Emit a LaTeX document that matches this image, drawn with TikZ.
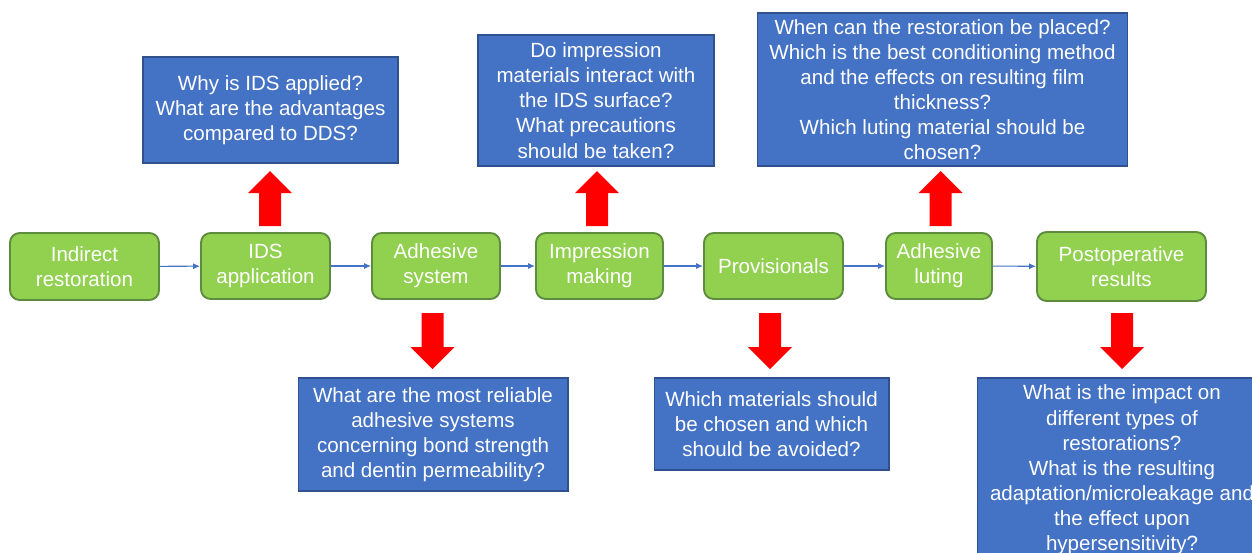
\documentclass[tikz,border=0pt]{standalone}
\usepackage{fontspec}
\setmainfont{Liberation Sans}
\usetikzlibrary{arrows.meta}
\definecolor{gfill}{HTML}{92D050}
\definecolor{gline}{HTML}{5E8C3E}
\definecolor{bfill}{HTML}{4472C4}
\definecolor{bline}{HTML}{2F528F}
\definecolor{conn}{HTML}{4472C4}
\definecolor{ared}{HTML}{FF0000}
\tikzset{
  txt/.style={font=\fontsize{11.7}{14.3}\selectfont, text=white, align=center, inner sep=0pt},
  gbox/.style={txt, draw=gline, line width=1.1pt, fill=gfill, rounded corners=5.5pt},
  bbox/.style={txt, draw=bline, line width=0.6pt, fill=bfill},
  conn/.style={draw=conn, line width=0.6pt, -{Latex[length=4pt,width=3.5pt]}},
  uparr/.pic={\fill[ared] (-11,0) -- (-11,-33) -- (-22,-33) -- (0,-55) -- (22,-33) -- (11,-33) -- (11,0) -- cycle;},
  downarr/.pic={\fill[ared] (-11,0) -- (-11,34) -- (-22,34) -- (0,56) -- (22,34) -- (11,34) -- (11,0) -- cycle;}
}
\begin{document}
\begin{tikzpicture}[x=0.02cm,y=-0.02cm]
\useasboundingbox (0,0) rectangle (1252,552);
\clip (0,0) rectangle (1252,552);
\fill[white] (0,0) rectangle (1252,552);
% green process boxes
\node[gbox, minimum width=2.98cm, minimum height=1.34cm] (g1) at (84.5,266.5) {Indirect\\restoration};
\node[gbox, minimum width=2.58cm, minimum height=1.32cm] (g2) at (265.5,266) {IDS\\application};
\node[gbox, minimum width=2.56cm, minimum height=1.32cm] (g3) at (436,266) {Adhesive\\system};
\node[gbox, minimum width=2.54cm, minimum height=1.32cm] (g4) at (599.5,266) {Impression\\making};
\node[gbox, minimum width=2.78cm, minimum height=1.32cm] (g5) at (773.5,266) {Provisionals};
\node[gbox, minimum width=2.12cm, minimum height=1.32cm] (g6) at (939,266) {Adhesive\\luting};
\node[gbox, minimum width=3.38cm, minimum height=1.38cm] (g7) at (1121.5,266.5) {Postoperative\\results};
% connectors
\draw[conn] (g1) -- (g2);
\draw[conn] (g2) -- (g3);
\draw[conn] (g3) -- (g4);
\draw[conn] (g4) -- (g5);
\draw[conn] (g5) -- (g6);
\draw[conn] (g6) -- (g7);
% question boxes
\node[bbox, minimum width=5.1cm, minimum height=2.12cm] (bA) at (270.5,110) {Why is IDS applied?\\What are the advantages\\compared to DDS?};
\node[bbox, minimum width=4.72cm, minimum height=2.62cm] (bB) at (596,100.5) {Do impression\\materials interact with\\the IDS surface?\\What precautions\\should be taken?};
\node[bbox, minimum width=7.42cm, minimum height=3.06cm] (bC) at (942.5,89.5) {When can the restoration be placed?\\Which is the best conditioning method\\and the effects on resulting film\\thickness?\\Which luting material should be\\chosen?};
\node[bbox, minimum width=5.4cm, minimum height=2.26cm] (bD) at (433,434.5) {What are the most reliable\\adhesive systems\\concerning bond strength\\and dentin permeability?};
\node[bbox, minimum width=4.7cm, minimum height=1.84cm] (bE) at (771.5,424) {Which materials should\\be chosen and which\\should be avoided?};
\node[bbox, minimum width=5.8cm, minimum height=3.68cm] (bF) at (1122,470) {What is the impact on\\different types of\\restorations?\\What is the resulting\\adaptation/microleakage and\\the effect upon\\hypersensitivity?};
% red arrows
\pic at (270,226) {uparr};
\pic at (597,226) {uparr};
\pic at (940.5,226) {uparr};
\pic at (432.5,313) {downarr};
\pic at (770,313) {downarr};
\pic at (1122,313) {downarr};
\end{tikzpicture}
\end{document}
